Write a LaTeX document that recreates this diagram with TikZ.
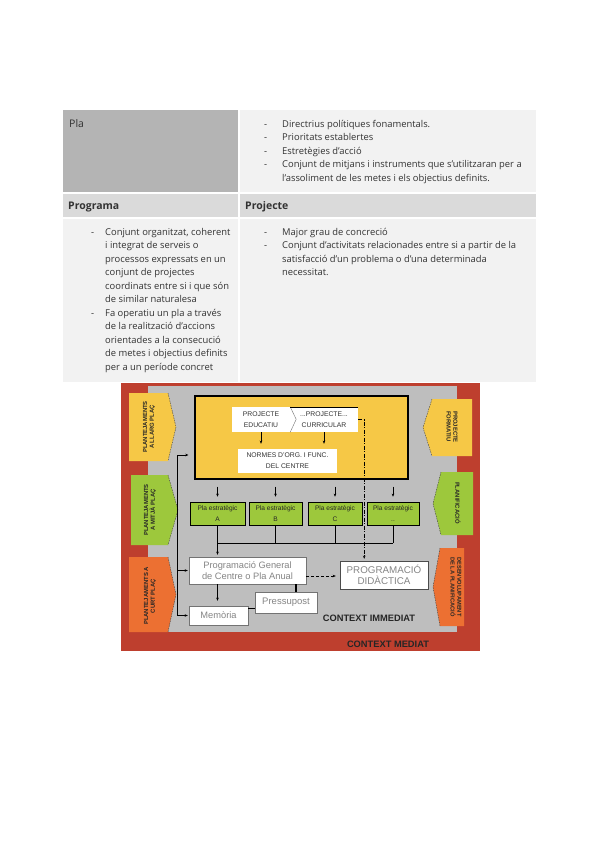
\documentclass[tikz,border=0pt]{standalone}
\usepackage{fontspec}
\setmainfont{Open Sans}
\newfontfamily\diagf{Liberation Sans}
\usetikzlibrary{arrows.meta}
\definecolor{cred}{HTML}{BE3F2E}
\definecolor{cgrey}{HTML}{BEBEBE}
\definecolor{cyel}{HTML}{F6C846}
\definecolor{cgreen}{HTML}{9DC83C}
\definecolor{corange}{HTML}{EC7032}
\definecolor{tdark}{HTML}{B4B4B4}
\definecolor{thead}{HTML}{DADADA}
\definecolor{tlight}{HTML}{F2F2F2}
\definecolor{gtext}{HTML}{858585}
\definecolor{ttext}{HTML}{333333}
\begin{document}
\begin{tikzpicture}[x=1pt,y=-1pt,
  tbody/.style={anchor=north west, inner sep=0, font=\fontsize{9.4}{13.5}\selectfont, text=ttext},
  thd/.style={anchor=base west, inner sep=0, font=\fontsize{10.5}{13}\selectfont, text=ttext},
  whitebox/.style={fill=white, inner sep=0, font=\diagf\fontsize{6.8}{10.7}\selectfont, text=black!80, align=center},
  greybox/.style={draw=black!55, line width=0.4pt, fill=white, inner sep=0, text=gtext, align=center},
  pbox/.style={draw=black, line width=0.5pt, fill=cgreen, inner sep=0, minimum height=23pt, font=\diagf\fontsize{6.6}{11}\selectfont, text=black!85, align=center},
  arr/.style={-{Stealth[length=3.2pt,width=2.6pt]}, line width=0.7pt},
  ln/.style={line width=0.7pt},
  tipedge/.style={black!75, line width=0.4pt, dash pattern=on 1.5pt off 1pt},
  lbl/.style={font=\diagf\bfseries\fontsize{5.9}{6.7}\selectfont, text=black!85, inner sep=0},
  ctx/.style={font=\diagf\bfseries\fontsize{9.3}{10}\selectfont, text=black!85, inner sep=0},
]
\useasboundingbox (0,0) rectangle (600,848);
\fill[white] (0,0) rectangle (600,848);

% ---------------- table ----------------
\fill[tdark]  (63,110) rectangle (238,192);
\fill[tlight] (240,110) rectangle (536,192);
\fill[thead]  (63,193.5) rectangle (238,217);
\fill[thead]  (240,193.5) rectangle (536,217);
\fill[tlight] (63,218.5) rectangle (238,382);
\fill[tlight] (240,218.5) rectangle (536,382);

\node[thd] (pla) at (69,128) {Pla};
\node[thd, font=\fontsize{10.5}{13}\selectfont\bfseries] (programa) at (68,209) {Programa};
\node[thd, font=\fontsize{10.5}{13}\selectfont\bfseries] (projecte) at (245,209) {Projecte};

\node[tbody] (plaR) at (264,117.5) {\begin{tabular}{@{}p{18pt}@{}l@{}}
-&Directrius polítiques fonamentals.\\
-&Prioritats establertes\\
-&Estretègies d’acció\\
-&Conjunt de mitjans i instruments que s’utilitzaran per a\\
&l’assoliment de les metes i els objectius definits.
\end{tabular}};

\node[tbody] (progL) at (91,225.5) {\begin{tabular}{@{}p{14pt}@{}l@{}}
-&Conjunt organitzat, coherent\\
&i integrat de serveis o\\
&processos expressats en un\\
&conjunt de projectes\\
&coordinats entre si i que són\\
&de similar naturalesa\\
-&Fa operatiu un pla a través\\
&de la realització d’accions\\
&orientades a la consecució\\
&de metes i objectius definits\\
&per a un període concret
\end{tabular}};

\node[tbody] (projR) at (264,225.5) {\begin{tabular}{@{}p{18pt}@{}l@{}}
-&Major grau de concreció\\
-&Conjunt d’activitats relacionades entre si a partir de la\\
&satisfacció d’un problema o d’una determinada\\
&necessitat.
\end{tabular}};

% ---------------- diagram ----------------
\fill[cred] (121,383) rectangle (480,651);
\fill[cgrey] (148,386) rectangle (457,632);

% left pentagons
\fill[cyel] (129,393) -- (168,393) -- (176,427) -- (168,461) -- (129,461) -- cycle;
\draw[tipedge] (168,393) -- (176,427) -- (168,461);
\fill[cgreen] (131,475) -- (168,475) -- (178,510) -- (168,545) -- (131,545) -- cycle;
\draw[tipedge] (168,475) -- (178,510) -- (168,545);
\fill[corange] (129,557) -- (168,557) -- (176,594.5) -- (168,632) -- (129,632) -- cycle;
\draw[tipedge] (168,557) -- (176,594.5) -- (168,632);

\node[lbl, rotate=90, align=center] (llarg) at (149,427) {PLANTEJAMENTS\\A LLARG PLAÇ};
\node[lbl, rotate=90, align=center] (mitja) at (150,510) {PLANTEJAMENTS\\A MITJÀ PLAÇ};
\node[lbl, rotate=90, align=center] (curt) at (150,596) {PLANTEJAMENTS A\\CURT PLAÇ};

% right pentagons
\fill[cyel] (472,399) -- (432,399) -- (423,427.5) -- (432,456) -- (472,456) -- cycle;
\draw[tipedge] (432,399) -- (423,427.5) -- (432,456);
\fill[cgreen] (473,472) -- (441,472) -- (433,503.5) -- (441,535) -- (473,535) -- cycle;
\draw[tipedge] (441,472) -- (433,503.5) -- (441,535);
\fill[corange] (464,548) -- (440,548) -- (433,587) -- (440,626) -- (464,626) -- cycle;
\draw[tipedge] (440,548) -- (433,587) -- (440,626);

\node[lbl, rotate=-90, align=left] (formatiu) at (452,427) {PROJECTE\\FORMATIU};
\node[lbl, rotate=-90, align=left] (planif) at (458,503) {PLANIFICACIÓ};
\node[lbl, rotate=-90, align=left, font=\diagf\bfseries\fontsize{5.7}{6.7}\selectfont] (desenv) at (456,587) {DESENVOLUPAMENT\\DE LA PLANIFICACIÓ};

% main yellow box
\node[draw=black, line width=1.1pt, fill=cyel, minimum width=213pt, minimum height=83pt, inner sep=0] (mainbox) at (301.5,437.5) {};

\node[whitebox, minimum width=58pt, minimum height=25pt] (educ) at (261,419.5) {PROJECTE\\EDUCATIU};
\node[whitebox, minimum width=68pt, minimum height=25pt] (curr) at (324,419.5) {...PROJECTE...\\CURRICULAR};
\draw[black!55, line width=0.4pt] (educ.north east) -- ++(6,12.5) -- (educ.south east);
\draw[black, line width=0.6pt] (curr.north west) -- (curr.north east);
\node[whitebox, minimum width=99pt, minimum height=24pt] (normes) at (287.5,461) {NORMES D’ORG. I FUNC.\\DEL CENTRE};

\draw[arr, shorten >=5pt] (educ.south) -- (educ.south |- normes.north);
\draw[arr, shorten >=5pt] (curr.south) -- (curr.south |- normes.north);

% green boxes
\node[pbox, minimum width=55pt] (pA) at (217.5,513.5) {Pla estratègic\\A};
\node[pbox, minimum width=53pt] (pB) at (275.5,513.5) {Pla estratègic\\B};
\node[pbox, minimum width=54pt] (pC) at (335,513.5) {Pla estratègic\\C};
\node[pbox, minimum width=52pt] (pD) at (393,513.5) {Pla estratègic\\..};

\foreach \p in {pA,pB,pC,pD}
  \draw[arr, shorten <=7pt, shorten >=5pt] (mainbox.south -| \p.north) -- (\p.north);

% lower boxes
\node[greybox, minimum width=117pt, minimum height=27pt, font=\diagf\fontsize{9.3}{11.3}\selectfont] (pg) at (247.5,570.5) {Programació General\\de Centre o Pla Anual};
\node[greybox, minimum width=88pt, minimum height=28pt, font=\diagf\fontsize{9.8}{11.5}\selectfont, draw=black!70] (didac) at (384,575) {PROGRAMACIÓ\\DIDÀCTICA};
\node[greybox, minimum width=59pt, minimum height=19pt, font=\diagf\fontsize{9.3}{11}\selectfont] (mem) at (218.5,615.5) {Memòria};
\node[greybox, minimum width=62pt, minimum height=21pt, font=\diagf\fontsize{9.5}{11}\selectfont] (pres) at (286,602.5) {Pressupost};

% connectors below green boxes
\coordinate (hl) at (0,543);
\draw[ln] (pB.south) -- (pB.south |- hl);
\draw[ln] (pC.south) -- (pC.south |- hl);
\draw[ln] (pD.south) -- (pD.south |- hl);
\draw[ln] (pA.south |- hl) -- (pD.south |- hl);
\draw[arr, shorten >=2pt] (pA.south) -- (pA.south |- pg.north);
\draw[arr, shorten >=5pt] (pg.south -| pA.south) -- (mem.north -| pA.south);

% dash-dot line from projecte curricular to programació didàctica
\coordinate (ddc) at ([xshift=6pt]curr.east);
\draw[ln, line width=0.8pt, dash pattern=on 4pt off 1.5pt on 1pt off 1.5pt, -{Stealth[length=3.2pt,width=2.6pt]}, shorten >=2pt] (curr.east) -- (ddc) -- (ddc |- didac.north);

% dashed arrow programació general -> didàctica
\coordinate (pge) at ([yshift=-5.5pt]pg.east);
\draw[arr, dash pattern=on 3pt off 2pt, shorten >=4pt] (pge) -- (pge -| didac.west);

% thick connections to pressupost
\coordinate (pgb) at ([xshift=-10pt]pg.south east);
\draw[line width=1.8pt] (pgb) -- (pgb |- pres.north);
\coordinate (mpr) at ([yshift=7pt]mem.east);
\draw[line width=1.8pt] (mpr) -- (mpr -| pres.west);

% left feedback line
\coordinate (vl) at (177,455);
\draw[ln] (vl) -- (vl |- mem.west);
\draw[arr, shorten >=6pt] (vl) -- (vl -| mainbox.west);
\draw[arr, shorten >=1pt] (vl |- pg.west) -- (pg.west);
\draw[arr, shorten >=1pt] (vl |- mem.west) -- (mem.west);

% context labels
\node[ctx] (cimm) at (369,618.5) {CONTEXT IMMEDIAT};
\node[ctx] (cmed) at (388,644.5) {CONTEXT MEDIAT};
\end{tikzpicture}
\end{document}
